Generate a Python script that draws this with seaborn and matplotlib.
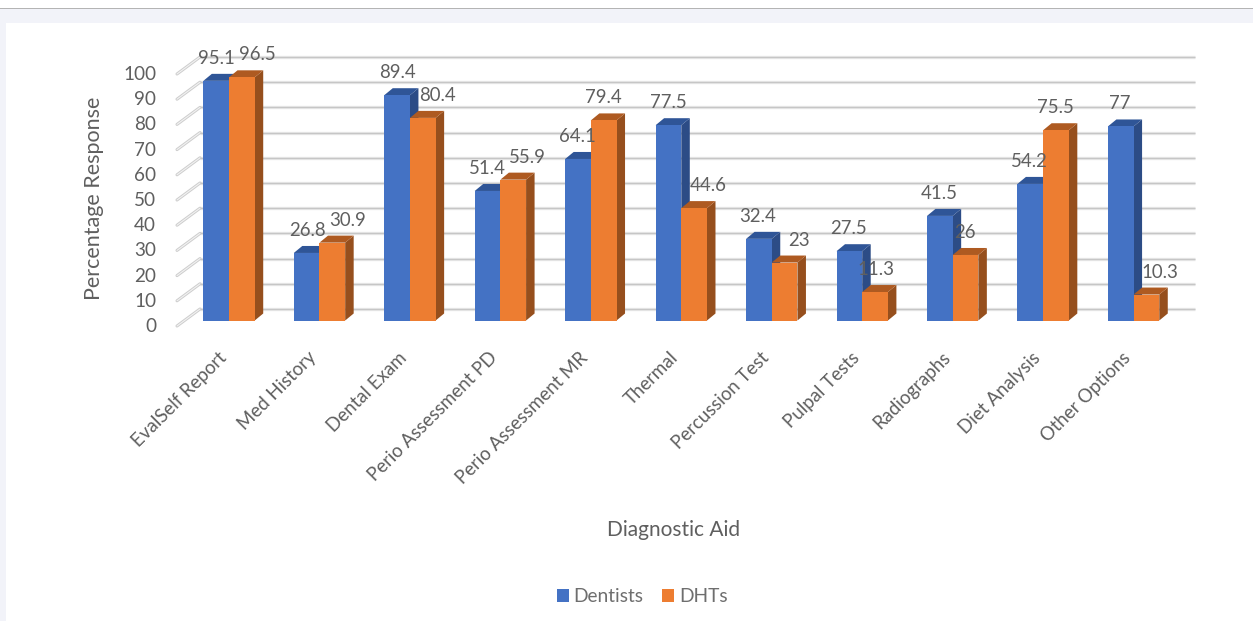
import matplotlib
matplotlib.use("Agg")
import matplotlib.pyplot as plt
from matplotlib.patches import Polygon, Rectangle
from matplotlib.transforms import ScaledTranslation
import pandas as pd
import seaborn as sns

# Survey results: share of respondents using each diagnostic aid
aids = ["EvalSelf Report", "Med History", "Dental Exam", "Perio Assessment PD",
        "Perio Assessment MR", "Thermal", "Percussion Test", "Pulpal Tests",
        "Radiographs", "Diet Analysis", "Other Options"]
dentists = [95.1, 26.8, 89.4, 51.4, 64.1, 77.5, 32.4, 27.5, 41.5, 54.2, 77]
dhts = [96.5, 30.9, 80.4, 55.9, 79.4, 44.6, 23, 11.3, 26, 75.5, 10.3]
y_ticks = list(range(0, 101, 10))

# Horizontal nudges (pixels) that keep the value labels apart
dentist_label_dx = [0, 1, 0, 0, -1, 0, -1, -1, -1, -1, -1]
dht_label_dx = [16, 15, 15, 14, 0, 14, 14, 1, -1, -1, 13]

W, H, DPI = 1253, 621, 100
TEXT = "#5F5F5F"
LEGEND_TEXT = "#6E6E6E"
FRONT = {"Dentists": "#4472C4", "DHTs": "#ED7D31"}
TOP = {"Dentists": "#2F5597", "DHTs": "#AE5A21"}
SIDE = {"Dentists": "#2C4C86", "DHTs": "#964F1D"}

sns.set_theme(style="white")
plt.rcParams["font.family"] = ["Lato", "DejaVu Sans"]

fig = plt.figure(figsize=(W / DPI, H / DPI), dpi=DPI, facecolor="white")


def fig_rect(x0, y0, x1, y1, color, z):
    fig.add_artist(Rectangle((x0 / W, 1 - y1 / H), (x1 - x0) / W, (y1 - y0) / H,
                             transform=fig.transFigure, facecolor=color,
                             edgecolor="none", zorder=z))


# Page surround and the white chart panel
fig_rect(0, 9, W, H, "#F2F3F9", -3)
fig_rect(0, 8, W, 9, "#B4B4B4", -2)
fig_rect(6, 23, W, H, "white", -1)

# The axes span the front plane of the bars
ax_l, ax_r, ax_t, ax_b = 183.8, 1178.8, 68.5, 320.5
ax = fig.add_axes([ax_l / W, 1 - ax_b / H, (ax_r - ax_l) / W, (ax_b - ax_t) / H])
ax.patch.set_alpha(0)

frame = pd.DataFrame({
    "aid": aids * 2,
    "value": dentists + dhts,
    "series": ["Dentists"] * len(aids) + ["DHTs"] * len(aids),
})
sns.barplot(data=frame, x="aid", y="value", hue="series", order=aids,
            palette=FRONT, width=0.568, gap=0, saturation=1, ax=ax,
            edgecolor="none", linewidth=0)
ax.set_xlim(-0.5, 10.5)
ax.set_ylim(0, 100)


def shifted(dx, dy):
    """Data transform moved by dx, dy screen pixels (dy upward)."""
    return ax.transData + ScaledTranslation(dx / DPI, dy / DPI, fig.dpi_scale_trans)


# Back wall gridlines and the receding strokes on the left wall
back = shifted(16.2, 11.5)
front = shifted(-6.8, -5.5)
for v in y_ticks:
    for width, shade, z in ((2.4, "#E8E8E8", 1), (0.9, "#C6C6C6", 1.1)):
        ax.plot([-0.5, 10.5], [v, v], transform=back, color=shade, lw=width,
                clip_on=False, zorder=z, solid_capstyle="butt")
    p0 = front.transform((-0.5, v))
    p1 = back.transform((-0.5, v))
    for width, shade, z in ((2.2, "#CDCDCD", 1), (0.8, "#F2F2F2", 1.1)):
        ax.plot([p0[0], p1[0]], [p0[1], p1[1]], transform=None, color=shade,
                lw=width, clip_on=False, zorder=z)

# Extrude each bar: right side and top face
depth_x = 8.5 / ((ax_r - ax_l) / 11)
depth_y = 7.0 / ((ax_b - ax_t) / 100)
for level, (name, bars) in enumerate(zip(FRONT, ax.containers)):
    base = 2 + level
    for bar in bars:
        x, w, h = bar.get_x(), bar.get_width(), bar.get_height()
        bar.set_zorder(base + 0.5)
        ax.add_patch(Polygon([(x + w, 0), (x + w + depth_x, depth_y),
                              (x + w + depth_x, h + depth_y), (x + w, h)],
                             closed=True, facecolor=SIDE[name], edgecolor="none",
                             clip_on=False, zorder=base))
        ax.add_patch(Polygon([(x, h), (x + w, h), (x + w + depth_x, h + depth_y),
                              (x + depth_x, h + depth_y)],
                             closed=True, facecolor=TOP[name], edgecolor="none",
                             clip_on=False, zorder=base))

# Value labels
for bars, nudges in zip(ax.containers, (dentist_label_dx, dht_label_dx)):
    for bar, nudge in zip(bars, nudges):
        h = bar.get_height()
        ax.annotate(f"{h:g}", (bar.get_x() + bar.get_width() / 2, h),
                    xytext=(nudge * 72 / DPI, 22.5 * 72 / DPI), textcoords="offset points",
                    ha="center", va="center", fontsize=13.4, color=TEXT, zorder=10,
                    annotation_clip=False)

# Axes furniture
sns.despine(ax=ax, left=True, bottom=True)
ax.set_yticks(y_ticks)
ax.tick_params(axis="y", length=0, pad=20.0, labelsize=13.6, labelcolor=TEXT)
ax.tick_params(axis="x", length=0, pad=24, labelsize=13.4, labelcolor=TEXT)
drop = ScaledTranslation(0, -4.5 / DPI, fig.dpi_scale_trans)
for label in ax.get_yticklabels():
    label.set_transform(label.get_transform() + drop)
ax.set_xticks(range(len(aids)))
ax.set_xticklabels(aids, rotation=45, ha="right", rotation_mode="anchor", va="top")
slide = ScaledTranslation(-11.5 / DPI, 5 / DPI, fig.dpi_scale_trans)
for label in ax.get_xticklabels():
    label.set_transform(label.get_transform() + slide)

ax.set_xlabel("Diagnostic Aid", fontsize=15, color=TEXT, va="center")
ax.xaxis.set_label_coords(674 / W, 1 - 529.5 / H, transform=fig.transFigure)
ax.set_ylabel("Percentage Response", fontsize=15.45, color=TEXT, va="center")
ax.yaxis.set_label_coords(94.5 / W, 1 - 198 / H, transform=fig.transFigure)

handles, labels = ax.get_legend_handles_labels()
ax.legend(handles, labels, ncol=2, frameon=False, fontsize=13.8, labelcolor=LEGEND_TEXT,
          loc="center", bbox_to_anchor=(642 / W, 1 - 597 / H),
          bbox_transform=fig.transFigure, handlelength=0.63, handleheight=0.63,
          handletextpad=0.26, columnspacing=0.94)

fig.savefig("out.png", dpi=DPI, facecolor=fig.get_facecolor())
